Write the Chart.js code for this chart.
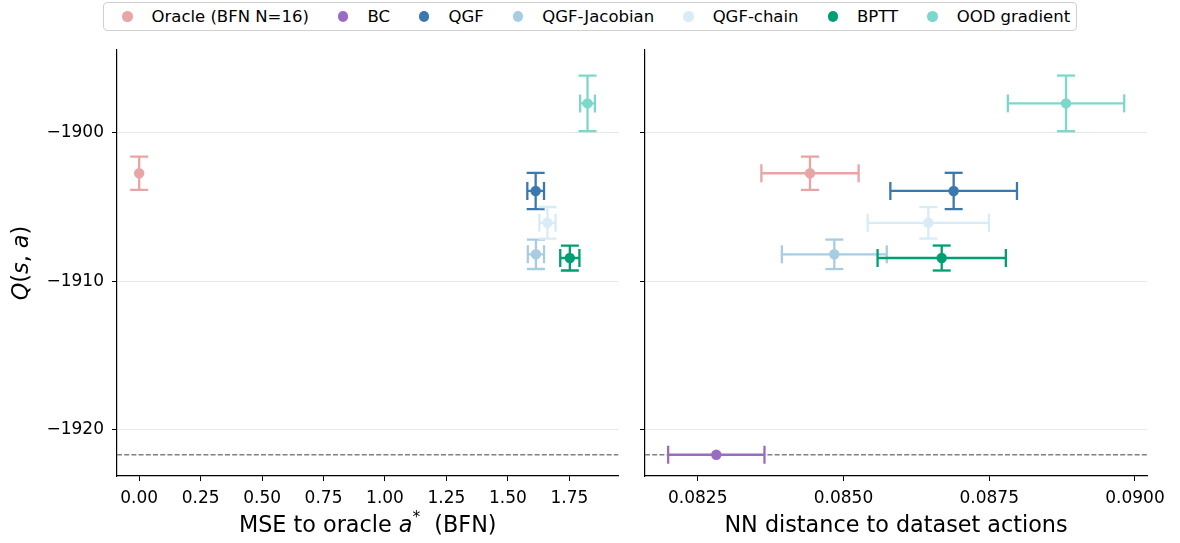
<!DOCTYPE html>
<html><head><meta charset="utf-8">
<script src="https://cdn.jsdelivr.net/npm/chart.js@4.4.0/dist/chart.umd.min.js"></script>
<style>
html,body{margin:0;padding:0;background:#fff;}
#wrap{position:relative;width:1180px;height:543px;overflow:hidden;font-family:'DejaVu Sans';background:#fff;}
#c1{position:absolute;left:0;top:0;width:632px;height:543px;}
#c2{position:absolute;left:632px;top:0;width:548px;height:543px;}
#legend{position:absolute;left:103px;top:2px;height:27px;border:1px solid #d0d0d0;border-radius:4px;display:flex;align-items:center;padding:0 6px 0 18px;font-size:16.5px;color:#000;background:#fff;white-space:nowrap;z-index:2;}
.item{display:flex;align-items:center;margin-right:29px}
.item:last-child{margin-right:0}
.dot{width:10.5px;height:10.5px;border-radius:50%;margin-right:19px;flex:none}
</style></head>
<body><div id="wrap">
<canvas id="c1" width="632" height="543"></canvas>
<canvas id="c2" width="548" height="543"></canvas>
<div id="legend"></div>
</div>
<script>
// ---- data ----
const seriesNames = ['Oracle (BFN N=16)', 'BC', 'QGF', 'QGF-Jacobian', 'QGF-chain', 'BPTT', 'OOD gradient'];
const seriesColors = ['#e8a5a5', '#9a6bc2', '#3b78af', '#a8cde2', '#d8ebf6', '#009e73', '#7dd8cc'];
const qMean   = [-1902.74, -1921.67, -1903.93, -1908.19, -1906.07, -1908.44, -1898.04];
const qErr    = [1.12, 0, 1.22, 0.99, 1.06, 0.84, 1.87];
const mseMean = [0, null, 1.613, 1.614, 1.661, 1.752, 1.824];
const mseErr  = [0, null, 0.034, 0.033, 0.033, 0.039, 0.030];
const nnMean  = [0.084426, 0.082819, 0.08689, 0.084843, 0.086455, 0.086685, 0.088817];
const nnErr   = [0.000834, 0.000826, 0.001086, 0.0009, 0.00104, 0.0011, 0.000998];
const bcReference = -1921.67;
const yTicks   = [-1920, -1910, -1900];
const mseTicks = [0, 0.25, 0.5, 0.75, 1.0, 1.25, 1.5, 1.75];
const nnTicks  = [0.0825, 0.0850, 0.0875, 0.0900];

// ---- legend ----
const leg = document.getElementById('legend');
seriesNames.forEach((n,i)=>{
  const it=document.createElement('div'); it.className='item';
  const d=document.createElement('span'); d.className='dot'; d.style.background=seriesColors[i];
  const t=document.createElement('span'); t.textContent=n;
  it.appendChild(d); it.appendChild(t); leg.appendChild(it);
});

const FONT = "'DejaVu Sans'";

const errPlugin = {
  id:'errbars',
  beforeDatasetsDraw(chart){
    const {ctx, chartArea:a, scales:{x,y}} = chart;
    ctx.save();
    ctx.beginPath(); ctx.rect(a.left,a.top,a.right-a.left,a.bottom-a.top); ctx.clip();
    const yr = y.getPixelForValue(bcReference);
    ctx.setLineDash([5,2.2]); ctx.strokeStyle='#808080'; ctx.lineWidth=1.3;
    ctx.beginPath(); ctx.moveTo(a.left,yr); ctx.lineTo(a.right,yr); ctx.stroke();
    ctx.setLineDash([]);
    const line=(x0,y0,x1,y1)=>{ctx.beginPath();ctx.moveTo(x0,y0);ctx.lineTo(x1,y1);ctx.stroke();};
    const cap=9;
    chart.data.datasets.forEach(ds=>{
      ctx.strokeStyle=ds.backgroundColor; ctx.lineWidth=2.3;
      ds.data.forEach(p=>{
        const px=x.getPixelForValue(p.x), py=y.getPixelForValue(p.y);
        if(p.yErr>0){
          const y0=y.getPixelForValue(p.y-p.yErr), y1=y.getPixelForValue(p.y+p.yErr);
          line(px,y0,px,y1); line(px-cap,y0,px+cap,y0); line(px-cap,y1,px+cap,y1);
        }
        if(p.xErr>0){
          const x0=x.getPixelForValue(p.x-p.xErr), x1=x.getPixelForValue(p.x+p.xErr);
          line(x0,py,x1,py); line(x0,py-cap,x0,py+cap); line(x1,py-cap,x1,py+cap);
        }
      });
    });
    ctx.restore();
  }
};

function drawSegments(ctx, segs, cx, baseline){
  let total=0;
  const m = segs.map(s=>{ctx.font=s.font; const w=ctx.measureText(s.t).width; total+=w; return w;});
  let xx=cx-total/2;
  segs.forEach((s,i)=>{ctx.font=s.font; ctx.fillText(s.t,xx,baseline+(s.dy||0)); xx+=m[i];});
}
const N = "22.3px "+FONT, I = "italic 22.3px "+FONT, S = "15.5px "+FONT;
const titlePlugin = {
  id:'titles',
  afterDraw(chart){
    const {ctx, chartArea:a} = chart;
    const o = chart.options.plugins.titles;
    ctx.save(); ctx.fillStyle='#000'; ctx.textBaseline='alphabetic'; ctx.textAlign='left';
    drawSegments(ctx, o.xSegs, (a.left+a.right)/2, 532);
    if(o.ySegs){
      ctx.translate(28,(a.top+a.bottom)/2); ctx.rotate(-Math.PI/2);
      drawSegments(ctx, o.ySegs, 0, 0);
    }
    ctx.restore();
  }
};

function makeDatasets(xs, xe){
  const out=[];
  seriesNames.forEach((n,i)=>{
    if(xs[i]===null) return;
    out.push({label:n, backgroundColor:seriesColors[i], borderWidth:0, pointRadius:5.2, pointHoverRadius:5.2,
      data:[{x:xs[i], y:qMean[i], xErr:xe[i], yErr:qErr[i]}]});
  });
  return out;
}

function yScale(showLabels, width){
  return {
    type:'linear', min:-1923.1, max:-1894.45,
    afterBuildTicks(s){ s.ticks = yTicks.map(v=>({value:v})); },
    afterFit(s){ s.width = width; },
    ticks:{display:showLabels, padding:8, color:'#000', font:{family:FONT,size:17},
      callback:v=>'\u2212'+Math.abs(v)},
    grid:{color:'#e8e8e8', lineWidth:1, tickColor:'#000', tickLength:5, drawTicks:true},
    border:{display:true, color:'#000', width:1.2}
  };
}
function xScale(min,max,ticks,dec){
  return {
    type:'linear', min, max,
    afterBuildTicks(s){ s.ticks = ticks.map(v=>({value:v})); },
    afterFit(s){ s.height = 67; },
    ticks:{padding:7, color:'#000', font:{family:FONT,size:17}, maxRotation:0, autoSkip:false,
      callback:v=>Number(v).toFixed(dec)},
    grid:{drawOnChartArea:false, tickColor:'#000', tickLength:5, drawTicks:true},
    border:{display:true, color:'#000', width:1.2}
  };
}

const common = {responsive:false, animation:false, events:[], maintainAspectRatio:false};

new Chart(document.getElementById('c1'), {
  type:'scatter',
  data:{datasets:makeDatasets(mseMean, mseErr)},
  options:Object.assign({}, common, {
    layout:{padding:{top:50, right:13.5, left:0, bottom:0}},
    scales:{ x:xScale(-0.0903, 1.950, mseTicks, 2), y:yScale(true, 117) },
    plugins:{legend:{display:false}, tooltip:{enabled:false},
      titles:{
        xSegs:[{t:'MSE to oracle ',font:N},{t:'a',font:I},{t:'*',font:S,dy:-10},{t:'  (BFN)',font:N}],
        ySegs:[{t:'Q',font:I},{t:'(',font:N},{t:'s',font:I},{t:', ',font:N},{t:'a',font:I},{t:')',font:N}]
      }}
  }),
  plugins:[errPlugin, titlePlugin]
});

new Chart(document.getElementById('c2'), {
  type:'scatter',
  data:{datasets:makeDatasets(nnMean, nnErr)},
  options:Object.assign({}, common, {
    layout:{padding:{top:50, right:33, left:0, bottom:0}},
    scales:{ x:xScale(0.081596, 0.090206, nnTicks, 4), y:yScale(false, 13) },
    plugins:{legend:{display:false}, tooltip:{enabled:false},
      titles:{ xSegs:[{t:'NN distance to dataset actions',font:N}], ySegs:null }}
  }),
  plugins:[errPlugin, titlePlugin]
});
</script>
</body></html>
